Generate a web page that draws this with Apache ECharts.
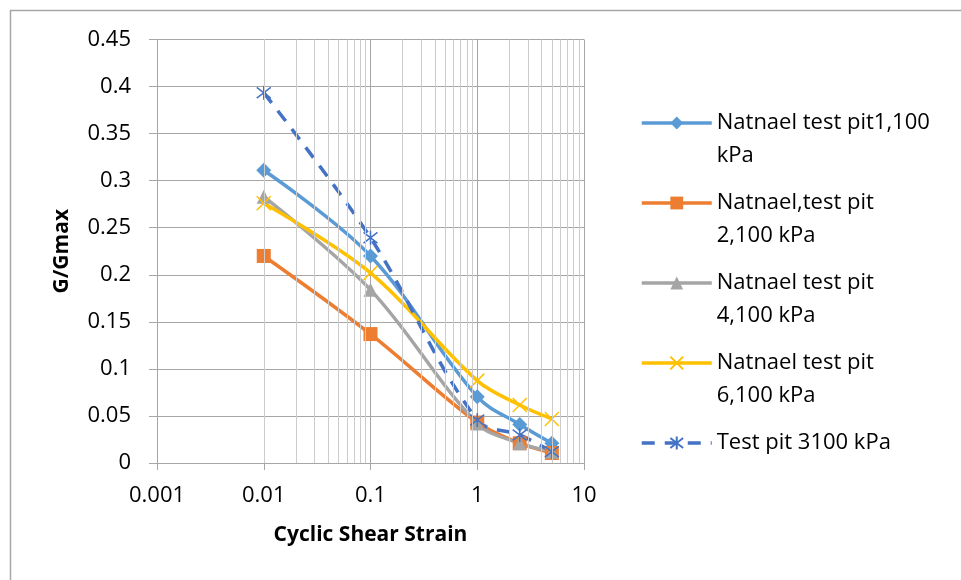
<!DOCTYPE html>
<html>
<head>
<meta charset="utf-8">
<script src="https://cdn.jsdelivr.net/npm/echarts@6/dist/echarts.min.js"></script>
<style>
html,body{margin:0;padding:0;background:#fff;}
#chart{width:961px;height:580px;}
</style>
</head>
<body>
<div id="chart"></div>
<script>
// Data
var strain = [0.01, 0.1, 1, 2.5, 5];
var pit1 = [0.311, 0.220, 0.0705, 0.041, 0.021];
var pit2 = [0.220, 0.137, 0.043, 0.021, 0.0106];
var pit4 = [0.283, 0.184, 0.042, 0.021, 0.012];
var pit6 = [0.276, 0.202, 0.0875, 0.0616, 0.0468];
var pit3 = [0.3935, 0.2394, 0.0457, 0.0298, 0.012];
var seriesNames = ['Natnael test pit1,100 kPa', 'Natnael,test pit 2,100 kPa', 'Natnael test pit 4,100 kPa', 'Natnael test pit 6,100 kPa', 'Test pit 3100 kPa'];
var legendLines = [['Natnael test pit1,100', 'kPa'], ['Natnael,test pit', '2,100 kPa'], ['Natnael test pit', '4,100 kPa'], ['Natnael test pit', '6,100 kPa'], ['Test pit 3100 kPa', '']];
var xTickLabels = ['0.001', '0.01', '0.1', '1', '10'];
var decades = [0.001, 0.01, 0.1, 1];
var minorMultipliers = [2, 3, 4, 5, 6, 7, 8, 9];

var FONT = 'Open Sans';
function pairs(ys) { return strain.map(function (x, i) { return [x, ys[i]]; }); }

var minorLines = [];
decades.forEach(function (d) {
  minorMultipliers.forEach(function (m) { minorLines.push({ xAxis: d * m }); });
});

var crossPath = 'path://M0,0L10,10M10,0L0,10';
var starPath = 'path://M0,0L10,10M10,0L0,10M5,-1.5L5,11.5';

function mkSeries(name, data, color, symbol, size, opts) {
  var s = {
    name: name, type: 'line', data: pairs(data), smooth: 0.35, z: 3,
    symbol: symbol, symbolSize: size, showSymbol: true,
    lineStyle: { color: color, width: 3.5 },
    itemStyle: { color: color, borderColor: color, borderWidth: 0 },
    emphasis: { disabled: true }
  };
  if (opts) { for (var k in opts) s[k] = opts[k]; }
  return s;
}

var chart = echarts.init(document.getElementById('chart'), null, { renderer: 'canvas' });
chart.setOption({
  animation: false,
  backgroundColor: '#fff',
  textStyle: { fontFamily: FONT },
  graphic: [{
    type: 'rect', shape: { x: 10.5, y: 10.5, width: 2000, height: 2000 },
    style: { fill: 'none', stroke: '#a6a6a6', lineWidth: 1.5 }, silent: true, z: 0
  }],
  grid: { left: 157, right: 377, top: 39.5, bottom: 117, containLabel: false },
  legend: {
    orient: 'vertical', left: 640, top: 73.5, padding: 0,
    itemWidth: 70, itemHeight: 16, itemGap: -19,
    data: seriesNames,
    lineStyle: { width: 3.5 },
    textStyle: { fontFamily: FONT, fontSize: 22, color: '#000', lineHeight: 33 },
    formatter: function (name) {
      var l = legendLines[seriesNames.indexOf(name)];
      return '\n' + l[0] + '\n' + l[1];
    },
    selectedMode: false
  },
  xAxis: {
    type: 'log', logBase: 10, min: 0.001, max: 10,
    name: 'Cyclic Shear Strain', nameLocation: 'middle', nameGap: 62,
    nameTextStyle: { fontFamily: FONT, fontSize: 21, fontWeight: 'bold', color: '#000' },
    axisLine: { onZero: false, lineStyle: { color: '#a6a6a6', width: 1 } },
    axisTick: { show: true, length: 7, inside: false, lineStyle: { color: '#a6a6a6' } },
    axisLabel: {
      fontFamily: FONT, fontSize: 22, color: '#000', margin: 22,
      formatter: function (v) {
        var idx = Math.round(Math.log10(v) + 3);
        return xTickLabels[idx];
      }
    },
    splitLine: { show: true, lineStyle: { color: '#a6a6a6', width: 1 } }
  },
  yAxis: {
    type: 'value', min: 0, max: 0.45, interval: 0.05, z: 1.5,
    name: 'G/Gmax', nameLocation: 'middle', nameGap: 84, nameRotate: 90,
    nameTextStyle: { fontFamily: FONT, fontSize: 21, fontWeight: 'bold', color: '#000' },
    axisLine: { show: true, lineStyle: { color: '#a6a6a6', width: 1 } },
    axisTick: { show: true, length: 8, lineStyle: { color: '#a6a6a6' } },
    axisLabel: {
      fontFamily: FONT, fontSize: 22, color: '#000', margin: 26,
      formatter: function (v) { return String(Math.round(v * 100) / 100); }
    },
    splitLine: { show: true, lineStyle: { color: '#a6a6a6', width: 1 } }
  },
  series: [
    {
      name: 'minor-grid', type: 'line', data: [], z: 1, silent: true,
      markLine: {
        silent: true, symbol: ['none', 'none'], label: { show: false },
        lineStyle: { color: '#cccccc', width: 1, type: 'solid' },
        emphasis: { disabled: true },
        data: minorLines
      }
    },
    mkSeries(seriesNames[0], pit1, '#5B9BD5', 'diamond', 15),
    mkSeries(seriesNames[1], pit2, '#ED7D31', 'rect', 14),
    mkSeries(seriesNames[2], pit4, '#A5A5A5', 'triangle', 14),
    mkSeries(seriesNames[3], pit6, '#FFC000', crossPath, 14, {
      itemStyle: { color: '#FFC000', borderColor: '#FFC000', borderWidth: 1.5 }
    }),
    mkSeries(seriesNames[4], pit3, '#4472C4', starPath, 14, {
      lineStyle: { color: '#4472C4', width: 3.5, type: [13, 10] },
      itemStyle: { color: '#4472C4', borderColor: '#4472C4', borderWidth: 1.5 }
    })
  ]
});
</script>
</body>
</html>
